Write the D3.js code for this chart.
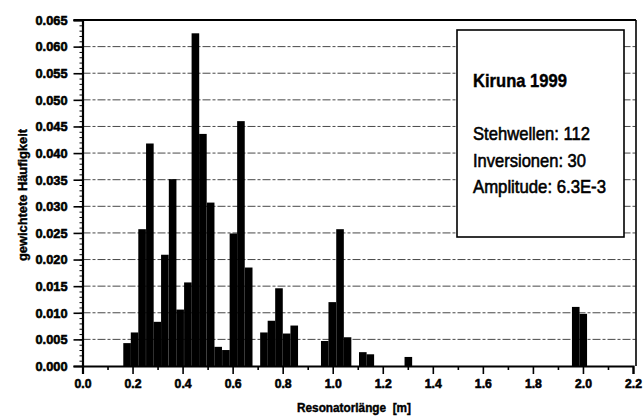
<!DOCTYPE html>
<html>
<head>
<meta charset="utf-8">
<script src="https://cdn.jsdelivr.net/npm/d3@7"></script>
<style>
  html, body { margin: 0; padding: 0; background: #fff; }
  svg { display: block; }
</style>
</head>
<body>
<svg id="chart" width="643" height="418"></svg>
<script>
// Histogram bins: lower edge of each bin (m) and weighted frequency
const binWidth = 0.0304;
const binLeft = [0.163, 0.193, 0.223, 0.254, 0.284, 0.314, 0.345, 0.375, 0.406, 0.436,
                 0.466, 0.497, 0.527, 0.558, 0.588, 0.618, 0.649,
                 0.710, 0.740, 0.770, 0.801, 0.831,
                 0.953, 0.983, 1.014, 1.044,
                 1.105, 1.135,
                 1.287,
                 1.956, 1.986];
const freq =    [0.0043, 0.0063, 0.0257, 0.0418, 0.0083, 0.0209, 0.0351, 0.0106, 0.0157, 0.0625,
                 0.0436, 0.0307, 0.0036, 0.0030, 0.0249, 0.0460, 0.0185,
                 0.0063, 0.0085, 0.0146, 0.0061, 0.0076,
                 0.0047, 0.0120, 0.0257, 0.0054,
                 0.0026, 0.0022,
                 0.0017,
                 0.0111, 0.0098];

const xTicks = [0, 0.2, 0.4, 0.6, 0.8, 1.0, 1.2, 1.4, 1.6, 1.8, 2.0, 2.2];
const xMinorTicks = [0.1, 0.3, 0.5, 0.7, 0.9, 1.1, 1.3, 1.5, 1.7, 1.9, 2.1];
const yTicks = [0, 0.005, 0.010, 0.015, 0.020, 0.025, 0.030, 0.035, 0.040, 0.045, 0.050, 0.055, 0.060, 0.065];

const legendTitle = "Kiruna 1999";
const legendLines = ["Stehwellen: 112", "Inversionen: 30", "Amplitude: 6.3E-3"];
const legendWidths = [117, 113, 133];
const xTitle = "Resonatorlänge  [m]";
const yTitle = "gewichtete Häufigkeit";

const svg = d3.select("#chart");
const x = d3.scaleLinear().domain([0, 2.2]).range([82.5, 633]);
const y = d3.scaleLinear().domain([0, 0.065]).range([366, 20]);
const font = '"Liberation Sans", Arial, Helvetica, sans-serif';

// dashed horizontal grid
svg.append("g")
  .selectAll("line")
  .data(yTicks.filter(v => v > 0 && v < 0.065))
  .join("line")
  .attr("x1", x(0)).attr("x2", x(2.2) + 3)
  .attr("y1", d => y(d)).attr("y2", d => y(d))
  .attr("stroke", "#333").attr("stroke-width", 0.9)
  .attr("stroke-dasharray", "8,2,3,2");

// bars
svg.append("g")
  .selectAll("rect")
  .data(binLeft.map((b, i) => ({ b, v: freq[i] })))
  .join("rect")
  .attr("x", d => x(d.b))
  .attr("width", d => x(d.b + binWidth) - x(d.b))
  .attr("y", d => y(d.v))
  .attr("height", d => y(0) - y(d.v))
  .attr("fill", "#000");

// frame: top and right edges
svg.append("line").attr("x1", x(0) - 9).attr("x2", x(2.2) + 3)
  .attr("y1", y(0.065)).attr("y2", y(0.065))
  .attr("stroke", "#000").attr("stroke-width", 2);
svg.append("line").attr("x1", x(2.2) + 3).attr("x2", x(2.2) + 3)
  .attr("y1", y(0.065)).attr("y2", y(0))
  .attr("stroke", "#000").attr("stroke-width", 1.6);

// legend box
const lg = svg.append("g");
lg.append("rect").attr("x", 457).attr("y", 30).attr("width", 167).attr("height", 207)
  .attr("fill", "#fff").attr("stroke", "#000").attr("stroke-width", 1.6);
lg.append("text").attr("x", 473).attr("y", 87)
  .attr("font-family", font).attr("font-size", 18.5).attr("font-weight", "bold")
  .attr("stroke", "#000").attr("stroke-width", 0.4)
  .attr("textLength", 94).attr("lengthAdjust", "spacingAndGlyphs")
  .text(legendTitle);
lg.selectAll("text.line").data(legendLines).join("text")
  .attr("class", "line")
  .attr("x", 473).attr("y", (d, i) => 140 + i * 26.7)
  .attr("font-family", font).attr("font-size", 19)
  .attr("stroke", "#000").attr("stroke-width", 0.6)
  .attr("textLength", (d, i) => legendWidths[i]).attr("lengthAdjust", "spacingAndGlyphs")
  .text(d => d);

// y axis: major and minor ticks
const yMinor = d3.range(0, 66).map(i => i / 1000);
svg.append("g").attr("transform", `translate(${x(0)},0)`)
  .call(d3.axisLeft(y).tickValues(yMinor).tickSize(3).tickFormat(""))
  .call(g => g.select(".domain").remove())
  .call(g => g.selectAll("line").attr("stroke-width", 1));
svg.append("g").attr("transform", `translate(${x(0)},0)`)
  .call(d3.axisLeft(y).tickValues(yTicks).tickSize(9).tickPadding(6).tickFormat(d3.format(".3f")))
  .call(g => g.select(".domain").attr("stroke-width", 2.2))
  .call(g => g.selectAll("line").attr("stroke-width", 1.6))
  .call(g => g.selectAll("text").attr("font-family", font).attr("font-size", 13.5)
    .attr("font-weight", "bold").attr("fill", "#000")
    .attr("stroke", "#000").attr("stroke-width", 0.6)
    .attr("textLength", 32).attr("lengthAdjust", "spacingAndGlyphs"));

// x axis: major and minor ticks
svg.append("g").attr("transform", `translate(0,${y(0)})`)
  .call(d3.axisBottom(x).tickValues(xMinorTicks).tickSize(4).tickFormat(""))
  .call(g => g.select(".domain").remove())
  .call(g => g.selectAll("line").attr("stroke-width", 1.6));
svg.append("g").attr("transform", `translate(0,${y(0)})`)
  .call(d3.axisBottom(x).tickValues(xTicks).tickSize(8).tickPadding(4).tickFormat(d3.format(".1f")))
  .call(g => g.select(".domain").attr("stroke-width", 2.2))
  .call(g => g.selectAll("line").attr("stroke-width", 1.6))
  .call(g => g.selectAll("text").attr("font-family", font).attr("font-size", 13.5)
    .attr("font-weight", "bold").attr("fill", "#000")
    .attr("stroke", "#000").attr("stroke-width", 0.6)
    .attr("textLength", 17).attr("lengthAdjust", "spacingAndGlyphs"));

// axis titles
svg.append("text").attr("x", 354).attr("y", 412).attr("text-anchor", "middle")
  .attr("font-family", font).attr("font-size", 12).attr("font-weight", "bold")
  .attr("stroke", "#000").attr("stroke-width", 0.4)
  .attr("xml:space", "preserve")
  .attr("textLength", 114).attr("lengthAdjust", "spacingAndGlyphs")
  .text(xTitle);
svg.append("text").attr("transform", "translate(27,195) rotate(-90)")
  .attr("text-anchor", "middle")
  .attr("font-family", font).attr("font-size", 12).attr("font-weight", "bold")
  .attr("stroke", "#000").attr("stroke-width", 0.4)
  .attr("textLength", 132).attr("lengthAdjust", "spacingAndGlyphs")
  .text(yTitle);
</script>
</body>
</html>
